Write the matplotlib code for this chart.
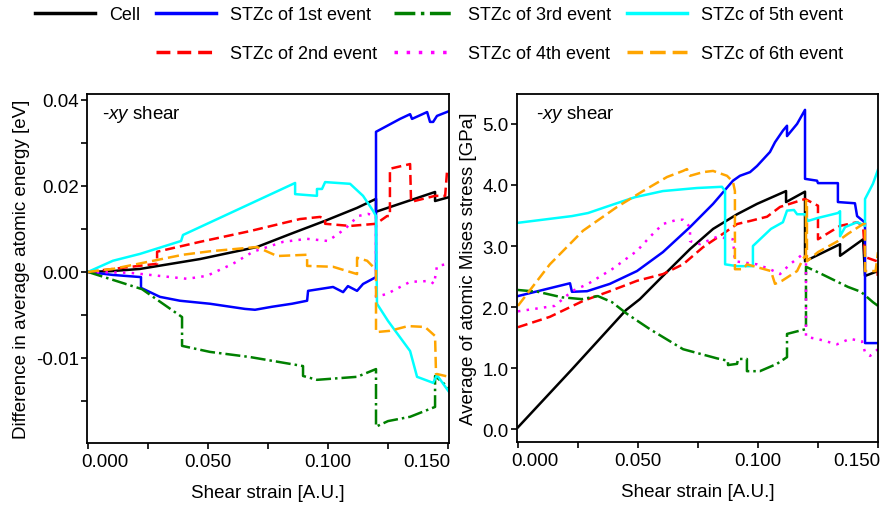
import matplotlib
matplotlib.use("Agg")
import matplotlib.pyplot as plt
from matplotlib.lines import Line2D
from matplotlib.transforms import ScaledTranslation

plt.rcParams['font.family'] = 'Liberation Sans'
plt.rcParams['mathtext.fontset'] = 'custom'
plt.rcParams['mathtext.it'] = 'Liberation Sans:italic'
plt.rcParams['mathtext.rm'] = 'Liberation Sans'

FS = 13.5

# ---- left panel: difference in average atomic energy [eV] ----
e_cell_x = [0, 0.01, 0.0217, 0.0467, 0.0704, 0.0842, 0.0988, 0.1121, 0.12, 0.12, 0.1446, 0.1446, 0.1504]
e_cell_y = [0, 0.0002, 0.0007, 0.0030, 0.0058, 0.0088, 0.0119, 0.0149, 0.0170, 0.0140, 0.0186, 0.0165, 0.0174]

e_stz1_x = [0, 0.0104, 0.0221, 0.0221, 0.03, 0.0383, 0.0508, 0.0654, 0.0696, 0.0767, 0.085, 0.0913, 0.0917,
            0.1021, 0.1063, 0.1083, 0.1121, 0.1146, 0.12, 0.12, 0.13, 0.1342, 0.135, 0.1413, 0.1425, 0.1438,
            0.1454, 0.1504]
e_stz1_y = [0, -0.0007, -0.0012, -0.0037, -0.0058, -0.0067, -0.0074, -0.0086, -0.0088, -0.0081, -0.0074,
            -0.0067, -0.0044, -0.0035, -0.0047, -0.0033, -0.0044, -0.0028, -0.0012, 0.0326, 0.0356, 0.0367,
            0.0356, 0.0372, 0.0349, 0.0349, 0.0363, 0.0374]

e_stz2_x = [0, 0.0104, 0.0288, 0.0288, 0.0467, 0.0675, 0.0883, 0.0967, 0.0988, 0.0988, 0.1092, 0.12, 0.1246,
            0.1258, 0.1258, 0.1342, 0.1346, 0.1446, 0.1488, 0.1496, 0.1504]
e_stz2_y = [0, 0.0007, 0.0019, 0.0047, 0.0070, 0.0095, 0.0123, 0.0128, 0.0123, 0.0112, 0.0107, 0.0112, 0.0130,
            0.0130, 0.0240, 0.0251, 0.0163, 0.0177, 0.0177, 0.0235, 0.0235]

e_stz3_x = [0, 0.0225, 0.0392, 0.0392, 0.0508, 0.0675, 0.0896, 0.0896, 0.0954, 0.1121, 0.12, 0.12, 0.125,
            0.1342, 0.1446, 0.1446, 0.1504]
e_stz3_y = [0, -0.0040, -0.0105, -0.0172, -0.0186, -0.0198, -0.0219, -0.0242, -0.0251, -0.0244, -0.0226,
            -0.0360, -0.0347, -0.0337, -0.0314, -0.0242, -0.0270]

e_stz4_x = [0, 0.0175, 0.0413, 0.0496, 0.0604, 0.0688, 0.0813, 0.0913, 0.1, 0.1071, 0.1125, 0.1167, 0.12, 0.12,
            0.1246, 0.1342, 0.1425, 0.1442, 0.1454, 0.1504]
e_stz4_y = [0, -0.0002, -0.0016, -0.0009, 0.0019, 0.0047, 0.0070, 0.0077, 0.0072, 0.0100, 0.0130, 0.0135,
            0.0130, -0.0058, -0.0051, -0.0023, -0.0021, -0.0028, 0.0014, 0.0019]

e_stz5_x = [0, 0.0104, 0.0217, 0.0388, 0.0396, 0.0863, 0.0863, 0.0954, 0.0954, 0.0975, 0.0988, 0.1092, 0.1146,
            0.1188, 0.12, 0.1204, 0.125, 0.1342, 0.1371, 0.1438, 0.1454, 0.1504]
e_stz5_y = [0, 0.0026, 0.0042, 0.0072, 0.0086, 0.0207, 0.0181, 0.0177, 0.0193, 0.0193, 0.0209, 0.0205, 0.0177,
            0.0142, 0.0130, -0.0074, -0.0114, -0.0184, -0.0244, -0.0258, -0.0240, -0.0279]

e_stz6_x = [0, 0.0104, 0.0396, 0.0508, 0.0704, 0.0788, 0.0913, 0.0913, 0.1021, 0.1121, 0.1121, 0.1163, 0.12,
            0.12, 0.1258, 0.1333, 0.1404, 0.1446, 0.145, 0.1504]
e_stz6_y = [0, 0.0007, 0.0040, 0.0048, 0.0058, 0.0037, 0.0040, 0.0014, 0.0012, -0.0005, 0.0033, 0.0026, 0.0005,
            -0.0140, -0.0137, -0.0126, -0.0128, -0.0149, -0.0237, -0.0244]

# ---- right panel: average of atomic Mises stress [GPa] ----
s_cell_x = [0, 0.0225, 0.045, 0.0508, 0.0604, 0.0717, 0.0813, 0.0913, 0.0996, 0.1117, 0.1117, 0.1196, 0.1196,
            0.1342, 0.1342, 0.1438, 0.1446, 0.15]
s_cell_y = [0.03, 0.98, 1.95, 2.13, 2.51, 2.95, 3.28, 3.52, 3.69, 3.90, 3.72, 3.89, 2.75, 3.03, 2.84, 3.11,
            2.51, 2.59]

s_stz1_x = [0, 0.0217, 0.0225, 0.0288, 0.0383, 0.0496, 0.0604, 0.0717, 0.0813, 0.0896, 0.0925, 0.0967, 0.0996,
            0.105, 0.1071, 0.1104, 0.1121, 0.1121, 0.1163, 0.1196, 0.1196, 0.1246, 0.125, 0.1333, 0.1333, 0.1404,
            0.1413, 0.1438, 0.1446, 0.1446, 0.15]
s_stz1_y = [2.18, 2.39, 2.25, 2.26, 2.38, 2.59, 2.90, 3.31, 3.69, 4.07, 4.15, 4.21, 4.31, 4.54, 4.70, 4.89,
            4.97, 4.80, 5.00, 5.23, 4.10, 4.07, 4.03, 4.03, 3.72, 3.70, 3.49, 3.41, 3.38, 1.41, 1.41]

s_stz2_x = [0, 0.0133, 0.0271, 0.0383, 0.0496, 0.0604, 0.0688, 0.0771, 0.0854, 0.0913, 0.0967, 0.1038, 0.1092,
            0.1196, 0.125, 0.125, 0.1342, 0.1413, 0.1438, 0.1446, 0.1496, 0.15]
s_stz2_y = [1.67, 1.84, 2.10, 2.26, 2.43, 2.54, 2.70, 2.98, 3.20, 3.36, 3.41, 3.48, 3.64, 3.77, 3.66, 3.11,
            3.33, 3.39, 3.33, 2.82, 2.75, 2.43]

s_stz3_x = [0, 0.0083, 0.0183, 0.0267, 0.0333, 0.0392, 0.0454, 0.0549, 0.0688, 0.0829, 0.0875, 0.0875, 0.0913,
            0.0917, 0.0954, 0.0954, 0.1008, 0.1079, 0.1121, 0.1121, 0.12, 0.12, 0.125, 0.1375, 0.1429, 0.1479,
            0.15]
s_stz3_y = [2.28, 2.25, 2.16, 2.13, 2.18, 2.08, 1.89, 1.64, 1.31, 1.16, 1.12, 1.05, 1.07, 1.15, 1.15, 0.95,
            0.95, 1.07, 1.18, 1.56, 1.64, 2.66, 2.57, 2.33, 2.25, 2.08, 2.02]

s_stz4_x = [0, 0.0154, 0.0225, 0.0292, 0.0392, 0.0496, 0.055, 0.0604, 0.0663, 0.0688, 0.0717, 0.0717, 0.0758,
            0.0829, 0.0896, 0.0904, 0.0996, 0.105, 0.1092, 0.1133, 0.1188, 0.12, 0.12, 0.1246, 0.1329, 0.1383,
            0.1433, 0.1446, 0.1467, 0.15]
s_stz4_y = [1.93, 2.02, 2.26, 2.38, 2.62, 2.92, 3.15, 3.36, 3.43, 3.43, 3.31, 3.08, 3.03, 3.15, 3.11, 2.75,
            2.70, 2.62, 2.54, 2.70, 2.87, 2.87, 1.51, 1.48, 1.39, 1.48, 1.44, 1.26, 1.20, 1.31]

s_stz5_x = [0, 0.0225, 0.0292, 0.0404, 0.0488, 0.0604, 0.0746, 0.085, 0.0863, 0.0863, 0.0913, 0.0979, 0.0979,
            0.1054, 0.1104, 0.1121, 0.115, 0.1163, 0.1196, 0.1208, 0.125, 0.1333, 0.1342, 0.1342, 0.1363, 0.1413,
            0.1446, 0.1446, 0.1479, 0.15]
s_stz5_y = [3.38, 3.49, 3.54, 3.69, 3.80, 3.90, 3.95, 3.97, 3.90, 2.70, 2.67, 2.67, 3.00, 3.28, 3.39, 3.58,
            3.59, 3.52, 3.52, 3.41, 3.46, 3.54, 3.57, 3.16, 3.31, 3.39, 3.33, 3.77, 4.02, 4.25]

s_stz6_x = [0, 0.0133, 0.0271, 0.0413, 0.0521, 0.0621, 0.0688, 0.0704, 0.0717, 0.0771, 0.0813, 0.0871, 0.0896,
            0.0904, 0.0904, 0.0938, 0.0954, 0.1054, 0.1071, 0.11, 0.1163, 0.1188, 0.12, 0.12, 0.1204, 0.1204,
            0.125, 0.1333, 0.1375, 0.1438, 0.1446, 0.1446, 0.149, 0.15]
s_stz6_y = [2.02, 2.70, 3.25, 3.64, 3.90, 4.13, 4.23, 4.26, 4.15, 4.21, 4.23, 4.15, 4.05, 3.90, 2.62, 2.62,
            2.70, 2.59, 2.38, 2.43, 2.59, 2.79, 2.85, 3.74, 3.74, 2.75, 2.90, 3.08, 3.20, 3.36, 3.36, 2.59,
            2.59, 2.90]

labels = ["Cell", "STZc of 1st event", "STZc of 2nd event", "STZc of 3rd event",
          "STZc of 4th event", "STZc of 5th event", "STZc of 6th event"]
colors = ["black", "#0000ff", "#ff0000", "#008000", "#ff00ff", "#00ffff", "#ffa500"]
dash_styles = [None, None, (4, 2), (6, 1.6, 1, 1.6), (1, 2.5), None, (4.5, 2)]

energy = [(e_cell_x, e_cell_y), (e_stz1_x, e_stz1_y), (e_stz2_x, e_stz2_y), (e_stz3_x, e_stz3_y),
          (e_stz4_x, e_stz4_y), (e_stz5_x, e_stz5_y), (e_stz6_x, e_stz6_y)]
stress = [(s_cell_x, s_cell_y), (s_stz1_x, s_stz1_y), (s_stz2_x, s_stz2_y), (s_stz3_x, s_stz3_y),
          (s_stz4_x, s_stz4_y), (s_stz5_x, s_stz5_y), (s_stz6_x, s_stz6_y)]


def draw(ax, series):
    for (x, y), c, d in zip(series, colors, dash_styles):
        if d is None:
            ax.plot(x, y, color=c, lw=1.8)
        else:
            ax.plot(x, y, color=c, lw=1.8, dashes=d)


fig = plt.figure(figsize=(8.84, 5.06), dpi=100)
ax1 = fig.add_axes([0.0984, 0.1225, 0.4095, 0.6898])
ax2 = fig.add_axes([0.5848, 0.1245, 0.4084, 0.6878])

draw(ax1, energy)
draw(ax2, stress)

ax1.set_xlim(-0.0004, 0.1504)
ax1.set_ylim(-0.0398, 0.0414)
ax2.set_xlim(-0.0004, 0.1500)
ax2.set_ylim(-0.21, 5.49)

for ax in (ax1, ax2):
    ax.set_xticks([0, 0.05, 0.1, 0.15])
    ax.set_xticklabels(["0.000", "0.050", "0.100", "0.150"])
    ax.set_xticks([0.025, 0.075, 0.125], minor=True)
    ax.tick_params(which="both", direction="out", length=4, width=1.2, labelsize=FS)
    ax.tick_params(axis="y", pad=2)
    for s in ax.spines.values():
        s.set_linewidth(1.3)
    ax.set_xlabel("Shear strain [A.U.]", fontsize=FS, labelpad=10)
    # end tick labels are pulled inside the axis range in the original
    ticks = ax.xaxis.get_major_ticks()
    first = ticks[0].label1
    first.set_transform(first.get_transform() + ScaledTranslation(0.17, 0, fig.dpi_scale_trans))
    last = ticks[-1].label1
    last.set_horizontalalignment("right")
    last.set_transform(last.get_transform() + ScaledTranslation(0.02, 0, fig.dpi_scale_trans))

ax1.set_yticks([-0.02, 0.0, 0.02, 0.04])
ax1.set_yticklabels(["-0.01", "0.00", "0.02", "0.04"])
ax1.set_yticks([-0.03, -0.01, 0.01, 0.03], minor=True)
ax1.set_ylabel("Difference in average atomic energy [eV]", fontsize=FS, labelpad=4)

ax2.set_yticks([0, 1, 2, 3, 4, 5])
ax2.set_yticklabels(["0.0", "1.0", "2.0", "3.0", "4.0", "5.0"])
ax2.set_ylabel("Average of atomic Mises stress [GPa]", fontsize=FS, labelpad=4)

ax1.text(0.041, 0.943, r"-$xy$ shear", transform=ax1.transAxes, fontsize=FS, va="center")
ax2.text(0.053, 0.943, r"-$xy$ shear", transform=ax2.transAxes, fontsize=FS, va="center")

# legend: column-major, blank slot under "Cell"
handles = [Line2D([], [], color=c, lw=2.5, dashes=d) if d else Line2D([], [], color=c, lw=2.5)
           for c, d in zip(colors, dash_styles)]
order = [0, None, 1, 2, 3, 4, 5, 6]
leg_h = [handles[i] if i is not None else Line2D([], [], color="none") for i in order]
leg_l = [labels[i] if i is not None else "" for i in order]
fig.legend(leg_h, leg_l, ncol=4, loc="upper left", bbox_to_anchor=(35 / 884, 1 - 7 / 506),
           frameon=False, fontsize=13, handlelength=3.3, handletextpad=0.8,
           columnspacing=0.9, labelspacing=1.22, borderpad=0, borderaxespad=0)

fig.savefig("out.png", dpi=100)
